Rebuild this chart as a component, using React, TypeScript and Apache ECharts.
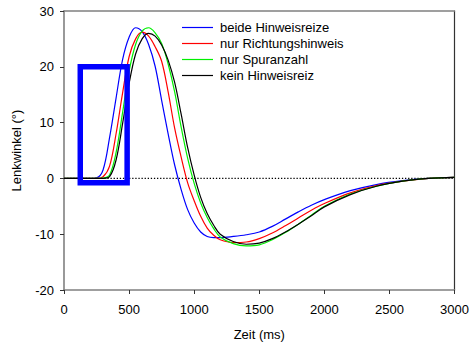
import React, { useEffect, useRef } from "react";
import * as echarts from "echarts";

const times = [0, 100, 200, 250, 300, 350, 400, 450, 500, 550, 600, 650, 700, 750, 800, 850, 900, 950, 1000, 1050, 1100, 1150, 1200, 1300, 1400, 1500, 1600, 1700, 1800, 1900, 2000, 2200, 2400, 2600, 2800, 3000];

const beide = [0, 0, 0, 0.1, 1.5, 7.3, 14.4, 21.3, 25.3, 27.0, 26.3, 24.0, 20.1, 14.0, 8.0, 2.4, -2.0, -5.6, -8.0, -9.6, -10.4, -10.6, -10.6, -10.4, -10.1, -9.6, -8.6, -7.3, -6.0, -4.8, -3.8, -2.2, -1.1, -0.4, 0.0, 0.2];
const richtung = [0, 0, 0, 0, 0.3, 2.2, 8.0, 15.3, 21.8, 25.0, 26.2, 25.5, 23.6, 21.0, 15.5, 9.0, 3.8, -0.8, -4.0, -6.8, -8.9, -10.2, -11.0, -11.5, -11.4, -10.8, -9.8, -8.5, -7.1, -5.7, -4.5, -2.6, -1.3, -0.5, 0.0, 0.2];
const spuranzahl = [0, 0, 0, 0, 0.05, 0.6, 4.6, 11.8, 19.2, 24.0, 26.4, 27.0, 26.1, 24.2, 20.5, 15.5, 9.2, 3.6, -0.9, -4.4, -7.0, -9.0, -10.5, -11.7, -12.1, -11.9, -11.0, -9.7, -8.2, -6.6, -5.0, -2.8, -1.4, -0.5, 0.0, 0.2];
const kein = [0, 0, 0, 0, 0, 0.3, 3.3, 9.8, 17.0, 22.3, 25.0, 26.0, 25.5, 23.9, 21.2, 17.2, 11.5, 5.5, 0.6, -3.4, -6.3, -8.4, -10.0, -11.3, -11.8, -11.6, -10.8, -9.6, -8.2, -6.7, -5.1, -2.9, -1.4, -0.5, 0.0, 0.2];

const seriesNames = ["beide Hinweisreize", "nur Richtungshinweis", "nur Spuranzahl", "kein Hinweisreiz"];
const seriesColors = ["#0000ff", "#ff0000", "#00f000", "#000000"];

const rectX = [125, 485, 485, 125, 125];
const rectY = [20, 20, -0.8, -0.8, 20];

const zeroX = [0, 3000];
const zeroY = [0, 0];

const FONT = "'Liberation Sans', Arial, sans-serif";

export default function App() {
  const ref = useRef<HTMLDivElement>(null);
  useEffect(() => {
    if (!ref.current) return;
    const chart = echarts.init(ref.current, undefined, { renderer: "svg" });
    const allData = [beide, richtung, spuranzahl, kein];
    const curveSeries = allData.map((vals, i) => ({
      name: seriesNames[i],
      type: "line",
      data: times.map((t, j) => [t, vals[j]]),
      smooth: 0.35,
      showSymbol: false,
      symbol: "none",
      lineStyle: { color: seriesColors[i], width: 1.2 },
      itemStyle: { color: seriesColors[i] },
      z: 3,
    }));
    chart.setOption({
      animation: false,
      textStyle: { fontFamily: FONT },
      grid: { left: 64, right: 13, top: 11, bottom: 51, show: false },
      legend: {
        orient: "vertical",
        left: 177,
        top: 16,
        data: seriesNames,
        itemWidth: 31,
        itemHeight: 14,
        itemGap: 3,
        icon: "path://M0,0L31,0L31,1.2L0,1.2Z",
        symbolKeepAspect: true,
        textStyle: { fontFamily: FONT, fontSize: 13, color: "#000", padding: [0, 0, 0, 2] },
      },
      xAxis: [
        {
          type: "value",
          min: 0,
          max: 3000,
          interval: 500,
          name: "Zeit (ms)",
          nameLocation: "middle",
          nameGap: 38,
          nameTextStyle: { fontFamily: FONT, fontSize: 13, color: "#000" },
          axisLine: { show: true, onZero: false, lineStyle: { color: "#808080", width: 1.6 } },
          axisTick: { show: true, length: 4, lineStyle: { color: "#333", width: 1 } },
          axisLabel: { fontFamily: FONT, fontSize: 13, color: "#000", margin: 13, formatter: (v: number) => String(v) },
          splitLine: { show: false },
        },
        {
          type: "value",
          position: "top",
          min: 0,
          max: 3000,
          axisLine: { show: true, onZero: false, lineStyle: { color: "#808080", width: 1.6 } },
          axisTick: { show: false },
          axisLabel: { show: false },
          splitLine: { show: false },
        },
      ],
      yAxis: [
        {
          type: "value",
          min: -20,
          max: 30,
          interval: 10,
          name: "Lenkwinkel (°)",
          nameLocation: "middle",
          nameGap: 41,
          nameTextStyle: { fontFamily: FONT, fontSize: 13, color: "#000" },
          axisLine: { show: true, onZero: false, lineStyle: { color: "#808080", width: 1.6 } },
          axisTick: { show: true, length: 4, lineStyle: { color: "#333", width: 1 } },
          axisLabel: { fontFamily: FONT, fontSize: 13, color: "#000", margin: 10 },
          splitLine: { show: false },
        },
        {
          type: "value",
          position: "right",
          min: -20,
          max: 30,
          axisLine: { show: true, onZero: false, lineStyle: { color: "#333", width: 1.2 } },
          axisTick: { show: false },
          axisLabel: { show: false },
          splitLine: { show: false },
        },
      ],
      series: [
        {
          name: "zero",
          type: "line",
          data: zeroX.map((x, i) => [x, zeroY[i]]),
          showSymbol: false,
          symbol: "none",
          silent: true,
          lineStyle: { color: "#000", width: 1.3, type: [1.3, 1.8] },
          z: 2,
        },
        ...curveSeries,
        {
          name: "box",
          type: "line",
          data: rectX.map((x, i) => [x, rectY[i]]),
          showSymbol: false,
          symbol: "none",
          silent: true,
          lineStyle: { color: "#0000ff", width: 5.5, join: "miter", cap: "square" },
          z: 5,
        },
      ],
    });
    return () => chart.dispose();
  }, []);
  return (
    <div
      ref={ref}
      style={{ position: "fixed", left: 0, top: 0, width: 472, height: 346, background: "#fff" }}
    />
  );
}
